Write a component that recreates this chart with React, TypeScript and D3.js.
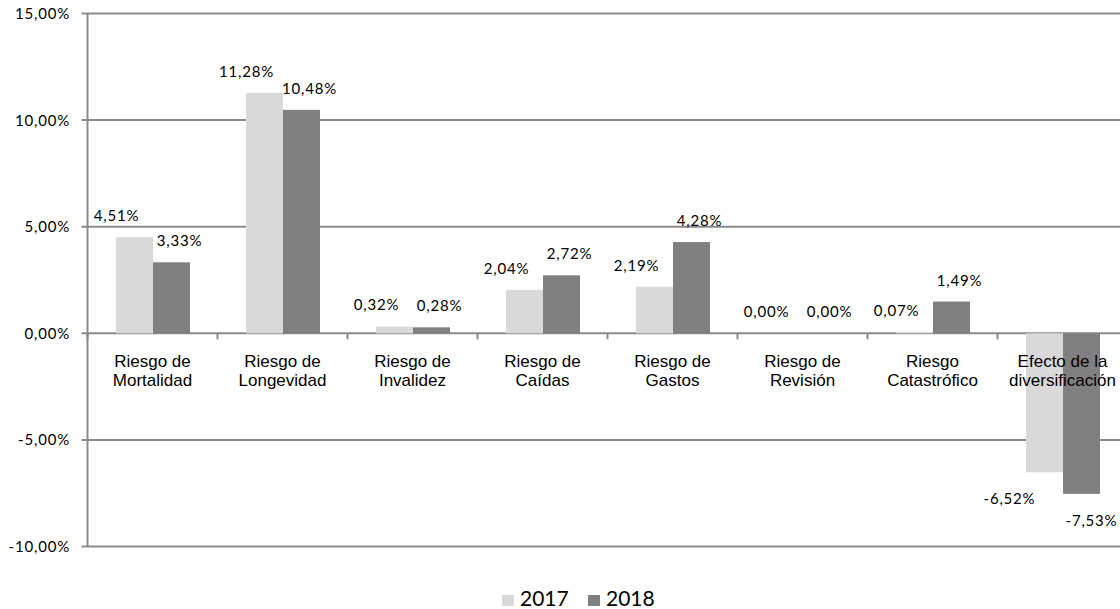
import { useEffect, useRef } from 'react'
import * as d3 from 'd3'

const categories = [
  ['Riesgo de', 'Mortalidad'],
  ['Riesgo de', 'Longevidad'],
  ['Riesgo de', 'Invalidez'],
  ['Riesgo de', 'Caídas'],
  ['Riesgo de', 'Gastos'],
  ['Riesgo de', 'Revisión'],
  ['Riesgo', 'Catastrófico'],
  ['Efecto de la', 'diversificación'],
]
const series = ['2017', '2018']
const values2017 = [4.51, 11.28, 0.32, 2.04, 2.19, 0.0, 0.07, -6.52]
const values2018 = [3.33, 10.48, 0.28, 2.72, 4.28, 0.0, 1.49, -7.53]
const yTicks = [-10, -5, 0, 5, 10, 15]

const colors: Record<string, string> = { '2017': '#d9d9d9', '2018': '#808080' }
const GRID = '#8a8a8a'
const LABEL_FONT = 'Lato, "Open Sans", sans-serif'

const fmt = (v: number) => v.toFixed(2).replace('.', ',') + '%'

export default function App() {
  const svgRef = useRef<SVGSVGElement>(null)

  useEffect(() => {
    if (!svgRef.current) return
    const svg = d3.select(svgRef.current)
    svg.selectAll('*').remove()

    const left = 87.5
    const band = 130
    const x = d3.scaleBand<number>()
      .domain(d3.range(categories.length))
      .range([left, left + band * categories.length])
      .padding(0)
    const xs = d3.scaleBand<string>()
      .domain(series)
      .range([28.5, 102.5])
      .padding(0)
    const y = d3.scaleLinear().domain([-10, 15]).range([546.5, 13.5])

    // gridlines
    svg.append('g')
      .selectAll('line')
      .data(yTicks)
      .enter()
      .append('line')
      .attr('x1', left - 6)
      .attr('x2', 1120)
      .attr('y1', d => y(d))
      .attr('y2', d => y(d))
      .attr('stroke', GRID)
      .attr('stroke-width', 2)

    // y axis line
    svg.append('line')
      .attr('x1', left).attr('x2', left)
      .attr('y1', y(15)).attr('y2', y(-10))
      .attr('stroke', GRID)
      .attr('stroke-width', 2)

    // category ticks on the zero line
    svg.append('g')
      .selectAll('line')
      .data(d3.range(categories.length + 1))
      .enter()
      .append('line')
      .attr('x1', d => left + d * band)
      .attr('x2', d => left + d * band)
      .attr('y1', y(0))
      .attr('y2', y(0) + 6)
      .attr('stroke', GRID)
      .attr('stroke-width', 2)

    // y tick labels
    svg.append('g')
      .selectAll('text')
      .data(yTicks)
      .enter()
      .append('text')
      .attr('x', 70)
      .attr('y', d => y(d) + 5.5)
      .attr('text-anchor', 'end')
      .attr('font-family', LABEL_FONT)
      .attr('font-size', 15)
      .attr('letter-spacing', 0.8)
      .attr('fill', '#000')
      .text(d => fmt(d))

    const rows = series.map(s => ({
      key: s,
      values: s === '2017' ? values2017 : values2018,
    }))

    // bars
    rows.forEach(r => {
      svg.append('g')
        .selectAll('rect')
        .data(r.values)
        .enter()
        .append('rect')
        .attr('x', (_, i) => x(i)! + xs(r.key)!)
        .attr('width', xs.bandwidth())
        .attr('y', d => y(Math.max(0, d)))
        .attr('height', d => Math.abs(y(d) - y(0)))
        .attr('fill', colors[r.key])
    })

    // data labels
    rows.forEach(r => {
      svg.append('g')
        .selectAll('text')
        .data(r.values)
        .enter()
        .append('text')
        .attr('x', (d, i) => {
          const cx = x(i)! + xs(r.key)! + xs.bandwidth() / 2
          if (r.key === '2017') return cx + (d < 0 ? -35 : -18)
          return cx + (d < 0 ? 10 : 8)
        })
        .attr('y', d => d < 0 ? y(d) + 32 : y(d) - 16)
        .attr('text-anchor', 'middle')
        .attr('font-family', LABEL_FONT)
        .attr('font-size', 15)
        .attr('letter-spacing', 0.8)
        .attr('fill', '#000')
        .text(d => fmt(d))
    })

    // category labels
    const cat = svg.append('g')
      .selectAll('text')
      .data(categories)
      .enter()
      .append('text')
      .attr('x', (_, i) => x(i)! + band / 2)
      .attr('y', 367)
      .attr('text-anchor', 'middle')
      .attr('font-family', '"Liberation Sans", Arial, sans-serif')
      .attr('font-size', 17)
      .attr('fill', '#000')
    cat.selectAll('tspan')
      .data(d => d)
      .enter()
      .append('tspan')
      .attr('x', function () {
        return (this as any).parentNode.getAttribute('x')
      })
      .attr('dy', (_, j) => (j === 0 ? 0 : 18.5))
      .text(d => d)

    // legend
    const legend = svg.append('g')
    const legendX = [502, 588]
    series.forEach((s, i) => {
      legend.append('rect')
        .attr('x', legendX[i])
        .attr('y', 595)
        .attr('width', 12)
        .attr('height', 11)
        .attr('fill', colors[s])
      legend.append('text')
        .attr('x', legendX[i] + 18)
        .attr('y', 605.5)
        .attr('font-family', LABEL_FONT)
        .attr('font-size', 21)
        .attr('fill', '#000')
        .text(s)
    })
  }, [])

  return (
    <svg
      ref={svgRef}
      width={1120}
      height={609}
      style={{ position: 'absolute', left: 0, top: 0, background: '#fff' }}
    />
  )
}
